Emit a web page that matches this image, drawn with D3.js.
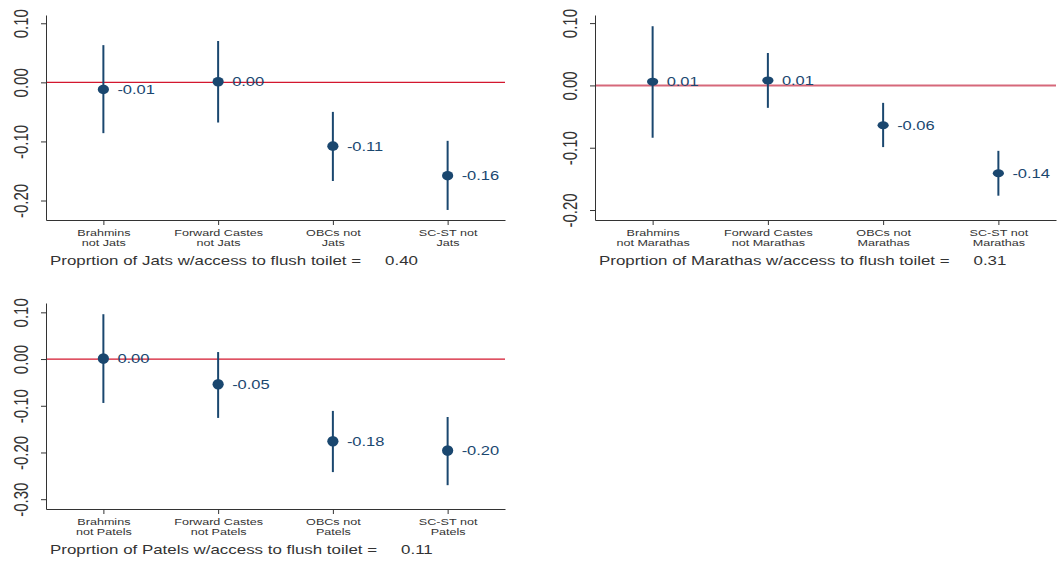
<!DOCTYPE html>
<html>
<head>
<meta charset="utf-8">
<script src="https://d3js.org/d3.v7.min.js"></script>
<style>
  body { margin: 0; background: #fff; }
  text { font-family: "Liberation Sans", Arial, sans-serif; }
</style>
</head>
<body>
<div id="chart"></div>
<script>
// data
const groups = ["Jats", "Marathas", "Patels"];
const shares = [0.40, 0.31, 0.11];

const jatsEst = [-0.012, 0.001, -0.108, -0.158];
const jatsLo  = [-0.086, -0.068, -0.167, -0.216];
const jatsHi  = [0.063, 0.070, -0.050, -0.099];

const marathasEst = [0.006, 0.008, -0.064, -0.141];
const marathasLo  = [-0.084, -0.036, -0.099, -0.177];
const marathasHi  = [0.095, 0.052, -0.028, -0.105];

const patelsEst = [0.001, -0.054, -0.176, -0.196];
const patelsLo  = [-0.094, -0.126, -0.242, -0.270];
const patelsHi  = [0.096, 0.015, -0.111, -0.124];

const ticksShort = [0.1, 0, -0.1, -0.2];
const ticksLong  = [0.1, 0, -0.1, -0.2, -0.3];

// category labels, second part gets the group name
function catLines(i, grp) {
  return [
    ["Brahmins", "not " + grp],
    ["Forward Castes", "not " + grp],
    ["OBCs not", grp],
    ["SC-ST not", grp]
  ][i];
}

const W = 1057, H = 562;
const navy = "#1a476f";
const fmt = d => d.toFixed(2);

const panels = [
  {grp: groups[0], est: jatsEst, lo: jatsLo, hi: jatsHi, ticks: ticksShort, share: shares[0],
   x0: 46, x1: 505, top: 15, bottom: 220, dom: [-0.233, 0.114],
   zeroColor: "#d3172e", zeroWidth: 1.2, ry: 4.8},
  {grp: groups[1], est: marathasEst, lo: marathasLo, hi: marathasHi, ticks: ticksShort, share: shares[1],
   x0: 595, x1: 1056, top: 15, bottom: 220, dom: [-0.216, 0.113],
   zeroColor: "#d6687a", zeroWidth: 2, ry: 4.0},
  {grp: groups[2], est: patelsEst, lo: patelsLo, hi: patelsHi, ticks: ticksLong, share: shares[2],
   x0: 46, x1: 505, top: 303, bottom: 509, dom: [-0.321, 0.12],
   zeroColor: "#d3172e", zeroWidth: 1.2, ry: 5.3}
];

const svg = d3.select("#chart").append("svg")
  .attr("width", W).attr("height", H)
  .style("background", "#fff");

panels.forEach(p => {
  const g = svg.append("g");

  const x = d3.scalePoint().domain(d3.range(4)).range([p.x0, p.x1]).padding(0.5);
  const y = d3.scaleLinear().domain(p.dom).range([p.bottom, p.top]);

  // y axis
  const ya = g.append("g")
    .attr("transform", `translate(${p.x0},0)`)
    .call(d3.axisLeft(y).tickValues(p.ticks).tickFormat(fmt).tickSize(5).tickSizeOuter(0));
  ya.select(".domain").attr("stroke", "#333");
  ya.selectAll(".tick line").attr("stroke", "#333");
  ya.selectAll(".tick text")
    .attr("x", null).attr("dy", null)
    .attr("text-anchor", "middle")
    .attr("transform", "translate(-18,0) scale(1.38,1) rotate(-90)")
    .attr("font-size", 15)
    .attr("font-family", "Liberation Sans, Arial, sans-serif")
    .attr("fill", "#333");

  // x axis
  const xa = g.append("g")
    .attr("transform", `translate(0,${p.bottom})`)
    .call(d3.axisBottom(x).tickSize(5).tickSizeOuter(0));
  xa.select(".domain").attr("stroke", "#333");
  xa.selectAll(".tick line").attr("stroke", "#333");
  xa.selectAll(".tick text").each(function(i) {
    const t = d3.select(this).text(null)
      .attr("y", null).attr("dy", null)
      .attr("text-anchor", "middle")
      .attr("transform", "translate(0,16) scale(1.4,1)")
      .attr("font-size", 9)
      .attr("font-family", "Liberation Sans, Arial, sans-serif")
      .attr("fill", "#333");
    catLines(i, p.grp).forEach((s, k) => {
      t.append("tspan").attr("x", 0).attr("y", k * 9.8).text(s);
    });
  });

  // reference line at zero
  g.append("line")
    .attr("x1", p.x0 + 1).attr("x2", p.x1)
    .attr("y1", y(0)).attr("y2", y(0))
    .attr("stroke", p.zeroColor).attr("stroke-width", p.zeroWidth);

  const idx = d3.range(p.est.length);

  // confidence intervals
  g.selectAll(".ci").data(idx).join("line")
    .attr("x1", i => x(i)).attr("x2", i => x(i))
    .attr("y1", i => y(p.lo[i])).attr("y2", i => y(p.hi[i]))
    .attr("stroke", navy).attr("stroke-width", 2);

  // point estimates
  g.selectAll(".pt").data(idx).join("ellipse")
    .attr("cx", i => x(i)).attr("cy", i => y(p.est[i]))
    .attr("rx", 5.6).attr("ry", p.ry)
    .attr("fill", navy);

  // value labels
  g.selectAll(".lab").data(idx).join("text")
    .attr("transform", i => `translate(${x(i) + 14},${y(p.est[i])}) scale(1.32,1)`)
    .attr("dy", "0.36em")
    .attr("font-size", 12.5)
    .attr("fill", navy)
    .text(i => fmt(p.est[i]));

  // note under the panel
  const note = g.append("text")
    .attr("transform", `translate(${p.x0 + 4},${p.bottom + 45}) scale(1.3,1)`)
    .attr("font-size", 13)
    .attr("fill", "#333")
    .text(`Proprtion of ${p.grp} w/access to flush toilet =`);
  const len = note.node().getComputedTextLength() * 1.3;
  g.append("text")
    .attr("transform", `translate(${p.x0 + 4 + len + 24},${p.bottom + 45}) scale(1.3,1)`)
    .attr("font-size", 13)
    .attr("fill", "#333")
    .text(fmt(p.share));
});
</script>
</body>
</html>
